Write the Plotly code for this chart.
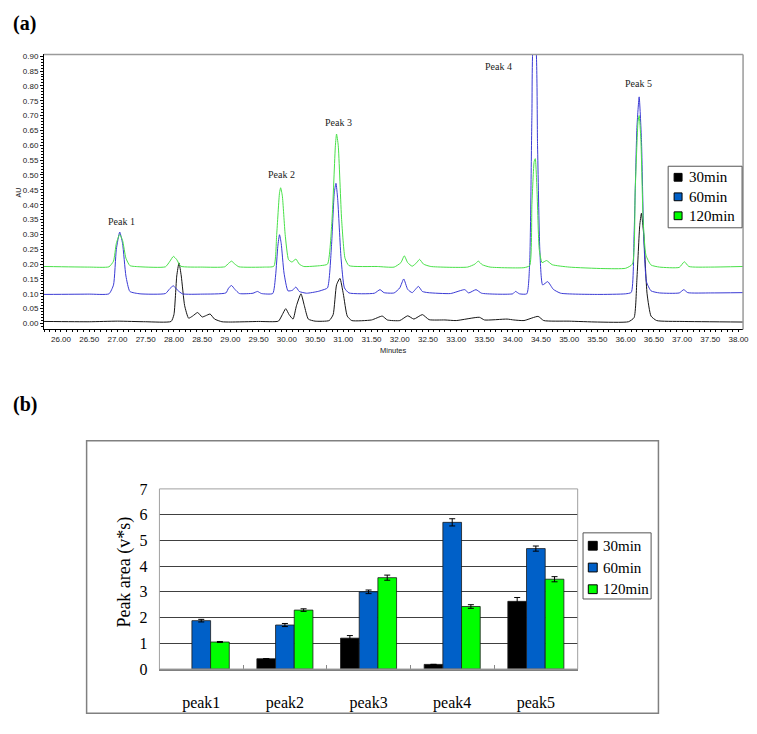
import plotly.graph_objects as go

W, H = 757, 734

# ---------------- Panel (a): chromatogram vertices ----------------
t_30 = [25.70, 26.50, 27.00, 27.50, 27.95, 28.00, 28.05, 28.09, 28.13, 28.19,
        28.26, 28.33, 28.42, 28.50, 28.56, 28.64, 28.72, 28.85, 29.00, 29.50,
        29.85, 29.92, 29.98, 30.04, 30.11, 30.17, 30.25, 30.31, 30.38, 30.50,
        30.75, 30.82, 30.88, 30.94, 31.00, 31.07, 31.15, 31.50, 31.69, 31.78,
        32.00, 32.14, 32.25, 32.40, 32.52, 32.80, 33.00, 33.41, 33.50, 33.90,
        34.02, 34.20, 34.45, 34.55, 35.00, 35.50, 36.05, 36.15, 36.20, 36.25,
        36.28, 36.32, 36.38, 36.45, 36.55, 37.00, 38.08]
au_30 = [0.007, 0.006, 0.008, 0.006, 0.007, 0.030, 0.160, 0.204, 0.160, 0.060,
         0.018, 0.025, 0.037, 0.022, 0.026, 0.032, 0.015, 0.006, 0.005, 0.007,
         0.008, 0.030, 0.050, 0.030, 0.015, 0.060, 0.100, 0.060, 0.015, 0.008,
         0.010, 0.030, 0.130, 0.152, 0.100, 0.025, 0.010, 0.012, 0.025, 0.012,
         0.010, 0.026, 0.015, 0.030, 0.013, 0.012, 0.010, 0.021, 0.012, 0.015,
         0.012, 0.010, 0.024, 0.010, 0.008, 0.005, 0.006, 0.020, 0.150, 0.330,
         0.371, 0.300, 0.100, 0.025, 0.010, 0.007, 0.005]

t_60 = [25.70, 26.50, 26.85, 26.93, 26.98, 27.04, 27.09, 27.15, 27.22, 27.40,
        27.85, 27.93, 27.99, 28.06, 28.15, 28.50, 28.92, 28.97, 29.02, 29.08,
        29.16, 29.40, 29.48, 29.55, 29.75, 29.80, 29.84, 29.87, 29.90, 29.95,
        30.02, 30.10, 30.16, 30.22, 30.35, 30.55, 30.62, 30.72, 30.79, 30.84,
        30.87, 30.90, 30.96, 31.02, 31.10, 31.55, 31.65, 31.72, 31.90, 32.00,
        32.07, 32.14, 32.22, 32.33, 32.40, 32.50, 32.90, 33.15, 33.22, 33.35,
        33.45, 34.00, 34.05, 34.12, 34.25, 34.30, 34.34, 34.37, 34.40, 34.44,
        34.48, 34.53, 34.62, 34.72, 34.85, 35.50, 36.00, 36.10, 36.15, 36.20,
        36.24, 36.28, 36.32, 36.37, 36.45, 36.60, 36.95, 37.03, 37.10, 37.50,
        38.08]
au_60 = [0.098, 0.099, 0.100, 0.130, 0.250, 0.308, 0.270, 0.160, 0.108, 0.100,
         0.101, 0.118, 0.127, 0.113, 0.100, 0.099, 0.103, 0.120, 0.128, 0.115,
         0.101, 0.102, 0.108, 0.101, 0.101, 0.160, 0.260, 0.299, 0.270, 0.170,
         0.110, 0.112, 0.123, 0.108, 0.102, 0.108, 0.112, 0.120, 0.260, 0.440,
         0.472, 0.420, 0.220, 0.120, 0.103, 0.102, 0.114, 0.104, 0.103, 0.120,
         0.150, 0.115, 0.104, 0.125, 0.108, 0.104, 0.101, 0.114, 0.103, 0.114,
         0.102, 0.100, 0.108, 0.100, 0.100, 0.200, 0.700, 0.950, 0.950, 0.600,
         0.250, 0.130, 0.141, 0.115, 0.102, 0.098, 0.100, 0.105, 0.300, 0.660,
         0.763, 0.620, 0.300, 0.140, 0.110, 0.103, 0.103, 0.114, 0.104, 0.103,
         0.104]

t_120 = [25.70, 26.50, 26.85, 26.93, 26.98, 27.04, 27.09, 27.15, 27.22, 27.40,
         27.85, 27.93, 27.99, 28.05, 28.12, 28.50, 28.90, 28.97, 29.02, 29.08,
         29.15, 29.60, 29.77, 29.82, 29.87, 29.89, 29.92, 29.97, 30.03, 30.09,
         30.16, 30.22, 30.30, 30.60, 30.72, 30.80, 30.86, 30.88, 30.91, 30.97,
         31.03, 31.10, 31.60, 31.90, 32.02, 32.08, 32.14, 32.22, 32.30, 32.35,
         32.42, 32.55, 33.20, 33.33, 33.39, 33.46, 33.60, 34.20, 34.30, 34.34,
         34.38, 34.40, 34.43, 34.47, 34.52, 34.60, 34.70, 35.00, 35.60, 36.00,
         36.12, 36.17, 36.22, 36.24, 36.27, 36.31, 36.36, 36.45, 36.60, 36.95,
         37.04, 37.12, 37.50, 38.08]
au_120 = [0.192, 0.190, 0.191, 0.210, 0.270, 0.300, 0.280, 0.220, 0.195, 0.191,
          0.191, 0.210, 0.226, 0.215, 0.193, 0.190, 0.191, 0.203, 0.210, 0.200,
          0.191, 0.190, 0.193, 0.300, 0.440, 0.457, 0.430, 0.300, 0.215, 0.207,
          0.217, 0.200, 0.192, 0.195, 0.200, 0.350, 0.600, 0.638, 0.600, 0.350,
          0.220, 0.195, 0.192, 0.190, 0.205, 0.228, 0.205, 0.193, 0.205, 0.216,
          0.200, 0.192, 0.190, 0.200, 0.210, 0.198, 0.190, 0.188, 0.195, 0.400,
          0.545, 0.555, 0.450, 0.250, 0.205, 0.212, 0.198, 0.190, 0.185, 0.186,
          0.200, 0.450, 0.680, 0.700, 0.620, 0.350, 0.230, 0.197, 0.190, 0.189,
          0.208, 0.192, 0.190, 0.192]

peak_names = ["Peak 1", "Peak 2", "Peak 3", "Peak 4", "Peak 5"]
peak_label_t = [27.08, 29.91, 30.91, 33.74, 36.22]
peak_label_au = [0.344, 0.503, 0.678, 0.864, 0.807]

# ---------------- Panel (b): peak areas ----------------
series_names = ["30min", "60min", "120min"]
categories = ["peak1", "peak2", "peak3", "peak4", "peak5"]
area_30 = [None, 0.40, 1.20, 0.18, 2.63]
err_30 = [0, 0, 0.10, 0, 0.15]
area_60 = [1.88, 1.71, 3.00, 5.70, 4.68]
err_60 = [0.05, 0.06, 0.07, 0.14, 0.10]
area_120 = [1.05, 2.29, 3.55, 2.43, 3.49]
err_120 = [0.02, 0.05, 0.10, 0.07, 0.10]

line_colors = ["#151515", "#3a3ad4", "#48e048"]
bar_colors = ["#000000", "#0060c8", "#00ff00"]

SERIF = "Liberation Serif, Times New Roman, serif"
SANS = "Liberation Sans, Arial, sans-serif"


def px(x):
    return x / W


def py(y):
    return 1 - y / H


fig = go.Figure()

for t, a, c, n in zip([t_30, t_60, t_120], [au_30, au_60, au_120], line_colors, series_names):
    fig.add_trace(go.Scatter(x=t, y=a, mode="lines", name=n, showlegend=False,
                             line=dict(color=c, width=1, shape="spline", smoothing=0.5),
                             xaxis="x", yaxis="y", hoverinfo="skip"))

for vals, errs, c, n in zip([area_30, area_60, area_120], [err_30, err_60, err_120],
                            bar_colors, series_names):
    fig.add_trace(go.Bar(x=categories, y=vals, name=n, showlegend=False,
                         marker=dict(color=c, line=dict(color="#1a1a1a", width=0.8)),
                         error_y=dict(type="data", array=errs, color="#000000",
                                      thickness=1, width=3),
                         xaxis="x2", yaxis="y2"))

tick_small = dict(family=SANS, size=8, color="#222222")

fig.update_layout(
    width=W, height=H,
    margin=dict(l=0, r=0, t=0, b=0),
    paper_bgcolor="white", plot_bgcolor="white",
    showlegend=False,
    barmode="group", bargap=0.33, bargroupgap=0,
    xaxis=dict(domain=[px(44.3), px(749)], range=[25.698, 38.08], anchor="y",
               tick0=26, dtick=0.5, tickformat=".2f", ticks="outside", ticklen=2,
               tickcolor="#000", showline=True, linecolor="#000", linewidth=1,
               showgrid=False, zeroline=False, tickfont=tick_small,
               minor=dict(dtick=0.1, ticks="outside", ticklen=2, tickcolor="#000",
                          showgrid=False)),
    yaxis=dict(domain=[py(329), py(47.5)], range=[-0.0197, 0.906], anchor="x",
               tick0=0, dtick=0.05, tickformat=".2f", ticks="outside", ticklen=3,
               tickcolor="#000", showline=True, linecolor="#000", linewidth=1,
               showgrid=False, zeroline=False, tickfont=tick_small,
               minor=dict(dtick=0.01, ticks="outside", ticklen=1.5, tickcolor="#000",
                          showgrid=False)),
    xaxis2=dict(domain=[px(160.7), px(582.3)], type="category", range=[-0.5, 4.5],
                anchor="y2", ticks="inside", tickson="boundaries", ticklen=4,
                tickcolor="#888888", showline=True, linecolor="#808080", linewidth=1.5,
                showgrid=False, tickfont=dict(family=SERIF, size=16, color="#000"),
                ticklabelstandoff=18),
    yaxis2=dict(domain=[py(676.7), py(492.3)], range=[0, 7], anchor="x2",
                tick0=0, dtick=1, showgrid=True, gridcolor="#404040", gridwidth=1,
                showline=False, zeroline=False, ticks="",
                tickfont=dict(family=SERIF, size=16, color="#000"),
                ticklabelstandoff=11),
)

shapes = [
    # panel (a) frame: top and right in gray
    dict(type="line", xref="x domain", yref="y domain", x0=0, x1=1, y0=1, y1=1,
         line=dict(color="#9a9a9a", width=1.5)),
    dict(type="line", xref="x domain", yref="y domain", x0=1, x1=1, y0=0, y1=1,
         line=dict(color="#9a9a9a", width=1.5)),
    # panel (b) plot frame
    dict(type="rect", xref="x2 domain", yref="y2 domain", x0=0, x1=1, y0=0, y1=1,
         line=dict(color="#a0a0a0", width=1), fillcolor="rgba(0,0,0,0)"),
    # panel (b) outer chart box
    dict(type="rect", xref="paper", yref="paper", x0=px(87.3), x1=px(663.7),
         y0=py(722), y1=py(443), line=dict(color="#808080", width=1.5),
         fillcolor="rgba(0,0,0,0)"),
]

annotations = [
    dict(text="<b>(a)</b>", x=px(11), y=py(15.5), xref="paper", yref="paper",
         xanchor="left", yanchor="middle", showarrow=False,
         font=dict(family=SERIF, size=20, color="#000")),
    dict(text="<b>(b)</b>", x=px(11), y=py(406), xref="paper", yref="paper",
         xanchor="left", yanchor="middle", showarrow=False,
         font=dict(family=SERIF, size=20, color="#000")),
    dict(text="AU", x=px(19), y=py(189), xref="paper", yref="paper", textangle=-90,
         xanchor="center", yanchor="middle", showarrow=False,
         font=dict(family=SANS, size=7, color="#222")),
    dict(text="Minutes", x=px(396.5), y=py(351), xref="paper", yref="paper",
         xanchor="center", yanchor="middle", showarrow=False,
         font=dict(family=SANS, size=7.5, color="#222")),
    dict(text="Peak area (v*s)", x=px(126), y=py(578), xref="paper", yref="paper",
         textangle=-90, xanchor="center", yanchor="middle", showarrow=False,
         font=dict(family=SERIF, size=18, color="#000")),
]
for name, t, a in zip(peak_names, peak_label_t, peak_label_au):
    annotations.append(dict(text=name, x=t, y=a, xref="x", yref="y", showarrow=False,
                            xanchor="center", yanchor="middle",
                            font=dict(family=SERIF, size=10, color="#222")))

# legend boxes (keys + labels), one per panel
legend_specs = [
    # box (x0, x1, y0, y1), swatch x0, swatch size, row centres, text x
    dict(box=(673.5, 748, 162, 225), sx=679.5, ss=8, rows=(173.3, 193.3, 212.7), tx=692),
    dict(box=(587.7, 656.3, 537.3, 605), sx=593, ss=9, rows=(550.5, 572.8, 595), tx=606),
]
for spec in legend_specs:
    bx0, bx1, by0, by1 = spec["box"]
    shapes.append(dict(type="rect", xref="paper", yref="paper", x0=px(bx0), x1=px(bx1),
                       y0=py(by1), y1=py(by0), line=dict(color="#555555", width=1),
                       fillcolor="white", layer="above"))
    for c, n, ry in zip(bar_colors, series_names, spec["rows"]):
        s = spec["ss"]
        shapes.append(dict(type="rect", xref="paper", yref="paper",
                           x0=px(spec["sx"]), x1=px(spec["sx"] + s),
                           y0=py(ry + s / 2), y1=py(ry - s / 2),
                           line=dict(color="#000000", width=1), fillcolor=c, layer="above"))
        annotations.append(dict(text=n, x=px(spec["tx"]), y=py(ry), xref="paper",
                                yref="paper", xanchor="left", yanchor="middle",
                                showarrow=False,
                                font=dict(family=SERIF, size=15, color="#000")))

fig.update_layout(shapes=shapes, annotations=annotations)

fig.write_html("out.html", config={"displayModeBar": False},
               post_script="document.body.style.margin='0';")
